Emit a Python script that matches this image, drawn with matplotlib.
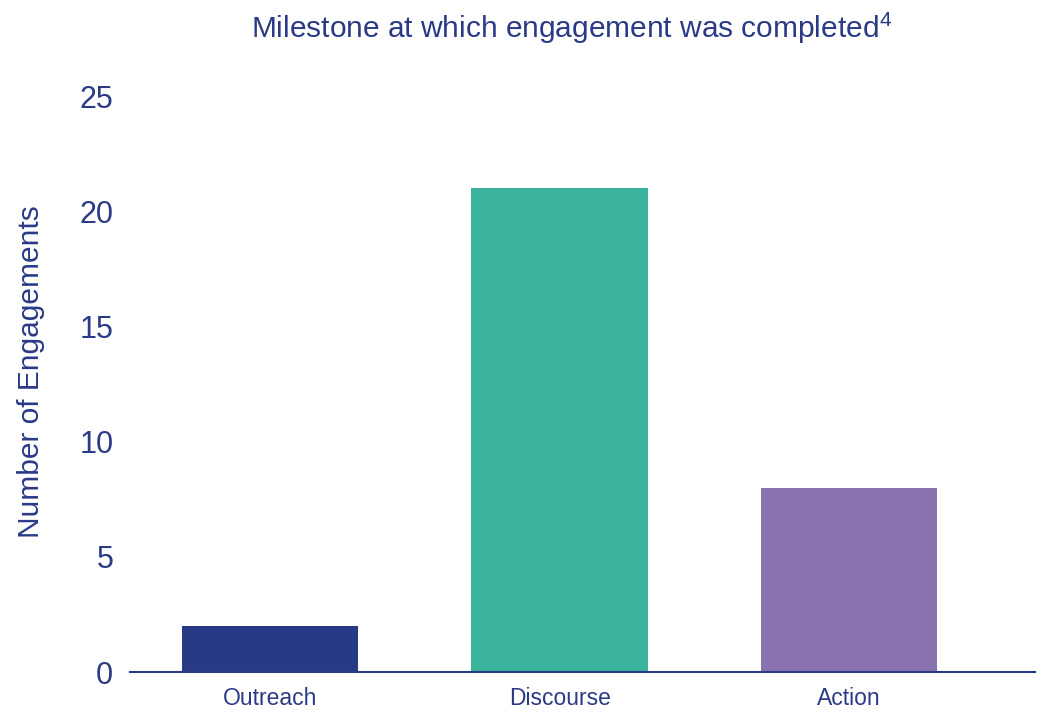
import matplotlib
matplotlib.use("Agg")
import matplotlib.pyplot as plt

# Data
milestones = ["Outreach", "Discourse", "Action"]
engagements = [2, 21, 8]
bar_colors = ["#283a85", "#39b39b", "#8a74b0"]
yticks = [0, 5, 10, 15, 20, 25]

text_color = "#2b3a87"
plt.rcParams['font.family'] = ['Liberation Sans', 'DejaVu Sans']
plt.rcParams['mathtext.fontset'] = 'custom'
plt.rcParams['mathtext.rm'] = 'Liberation Sans'

fig = plt.figure(figsize=(10.48, 7.13), dpi=100)
ax = fig.add_axes([130 / 1048, 41 / 713, 905 / 1048, 576 / 713])

x = range(len(milestones))
ax.bar(x, engagements, width=0.61, color=bar_colors)

ax.set_xlim(-0.484, 2.642)
ax.set_ylim(0, 25)
ax.set_yticks(yticks)
ax.set_xticks(list(x))
ax.set_xticklabels(milestones, fontsize=16.5, color=text_color)
ax.set_yticklabels([str(t) for t in yticks], fontsize=22, color=text_color)
ax.tick_params(axis='both', length=0)
ax.tick_params(axis='y', pad=12)
ax.tick_params(axis='x', pad=11)

for side in ["top", "right", "left"]:
    ax.spines[side].set_visible(False)
ax.spines["bottom"].set_color(text_color)
ax.spines["bottom"].set_linewidth(1.5)

ax.set_ylabel("Number of Engagements", fontsize=21.5, color=text_color)
ax.yaxis.set_label_coords(-0.094, 0.521)

fig.text(0.545, 0.96, r"Milestone at which engagement was completed$^{\mathrm{4}}$",
         ha='center', va='center', fontsize=21.5, color=text_color)

fig.savefig("out.png", dpi=100)
plt.close(fig)
